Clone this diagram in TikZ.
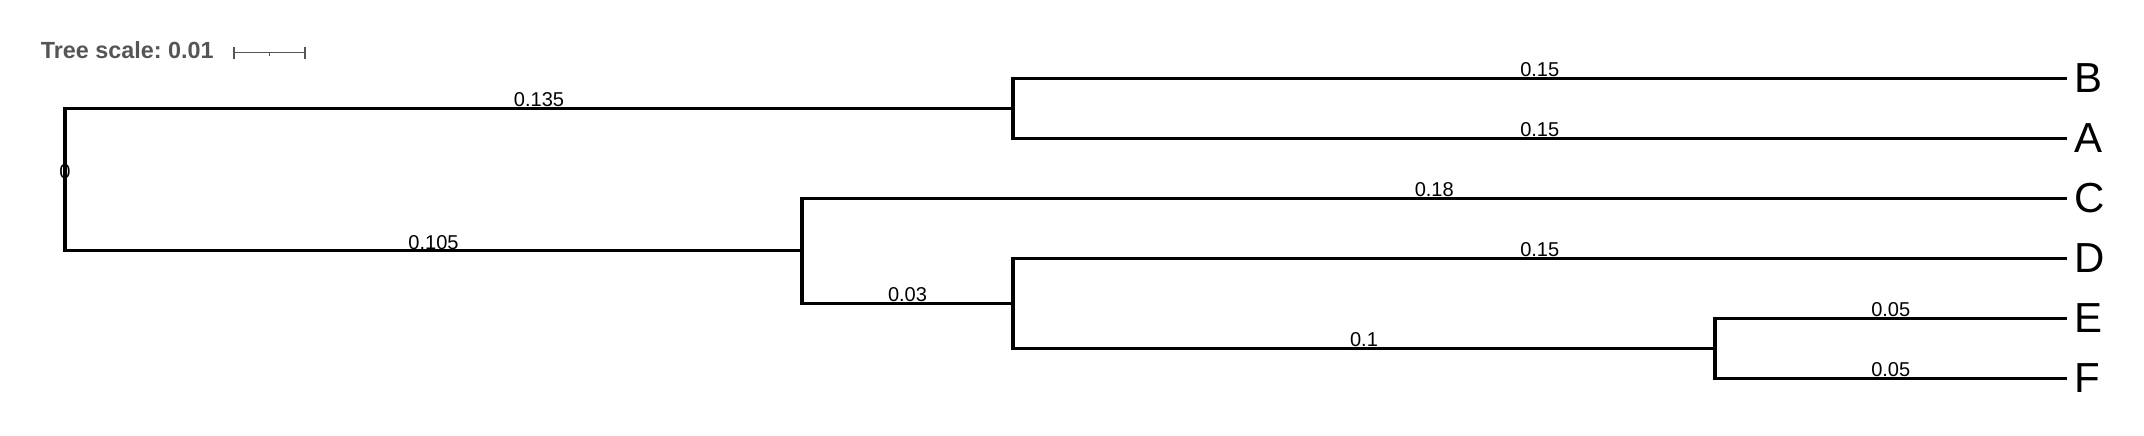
\documentclass[tikz,border=0pt]{standalone}
\usepackage{fontspec}
\setmainfont{Liberation Sans}
\usepackage{tikz}
\frenchspacing
\definecolor{scalegray}{RGB}{85,85,85}
\tikzstyle{branch} = [line width=1.8pt, black]
\tikzstyle{leaf} = [anchor=west, inner xsep=0.15cm, inner ysep=0pt, font=\fontsize{23.9}{24}\selectfont]
\tikzstyle{blen} = [anchor=base, inner sep=0pt, yshift=0.9pt, font=\fontsize{11.4}{12}\selectfont]
\tikzstyle{scaletext} = [anchor=base west, inner sep=0pt, text=scalegray, font=\bfseries\fontsize{13.3}{14}\selectfont]
\tikzstyle{scalebar} = [line width=0.8pt, scalegray]

\begin{document}
\begin{tikzpicture}[x=0.02cm, y=-0.02cm]

    \useasboundingbox (0,0) rectangle (2144,436);

    % tree scale
    \node (scalelbl) [scaletext] at (40.5,58.3) {Tree scale: 0.01};
    \coordinate (sbl) at (234,52.7);
    \coordinate (sbr) at (305,52.7);
    \coordinate (sbm) at (269.5,52.7);
    \draw [scalebar] (sbl) -- (sbr);
    \draw [scalebar] (sbl) ++(0,-6) -- ++(0,12);
    \draw [scalebar] (sbr) ++(0,-6) -- ++(0,12);
    \draw [scalebar] (sbm) -- ++(0,3);

    % inner nodes
    \coordinate (root) at (65,179.6);
    \coordinate (nAB) at (1013,108.3);
    \coordinate (nCDEF) at (802,250.8);
    \coordinate (nDEF) at (1013,303.3);
    \coordinate (nEF) at (1715,348.3);
    \node (rootlen) [blen] at (root) {0};

    % leaves
    \node (B) [leaf] at (2066.5,78.3) {B};
    \node (A) [leaf] at (2066.5,138.3) {A};
    \node (C) [leaf] at (2066.5,198.3) {C};
    \node (D) [leaf] at (2066.5,258.3) {D};
    \node (E) [leaf] at (2066.5,318.3) {E};
    \node (F) [leaf] at (2066.5,378.3) {F};

    \draw [branch] (root) |- node[blen, pos=0.75] {0.135} (nAB);
    \draw [branch] (root) |- node[blen, pos=0.75] {0.105} (nCDEF);
    \draw [branch] (nAB) |- node[blen, pos=0.75] {0.15} (B.west);
    \draw [branch] (nAB) |- node[blen, pos=0.75] {0.15} (A.west);
    \draw [branch] (nCDEF) |- node[blen, pos=0.75] {0.18} (C.west);
    \draw [branch] (nCDEF) |- node[blen, pos=0.75] {0.03} (nDEF);
    \draw [branch] (nDEF) |- node[blen, pos=0.75] {0.15} (D.west);
    \draw [branch] (nDEF) |- node[blen, pos=0.75] {0.1} (nEF);
    \draw [branch] (nEF) |- node[blen, pos=0.75] {0.05} (E.west);
    \draw [branch] (nEF) |- node[blen, pos=0.75] {0.05} (F.west);

\end{tikzpicture}
\end{document}
